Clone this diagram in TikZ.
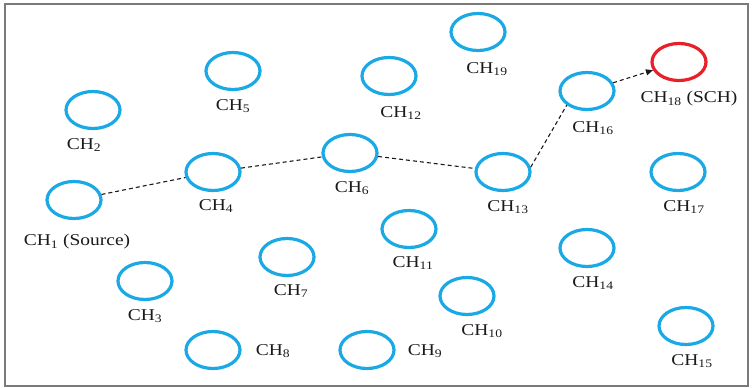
\documentclass[tikz,border=0pt]{standalone}
\usepackage{fontspec}
\setmainfont{Liberation Serif}
\newfontfamily\labfont[FakeStretch=1.18]{Liberation Serif}
\usetikzlibrary{shapes.geometric,arrows.meta}
\definecolor{chblue}{HTML}{1BA9E6}
\definecolor{chred}{HTML}{E8202A}
\definecolor{frame}{HTML}{7A7A7A}
\definecolor{ink}{HTML}{1A1A1A}
\newcommand{\ch}[1]{CH\textsubscript{#1}}
\begin{document}
\begin{tikzpicture}[x=1pt,y=-1pt,
  head/.style={ellipse,draw=chblue,line width=3.2pt,minimum width=54pt,minimum height=37pt,inner sep=0pt},
  sink/.style={head,draw=chred},
  tag/.style={font=\labfont\fontsize{16.5}{18}\selectfont,text=ink,inner sep=0pt},
  hop/.style={line width=1.1pt,ink,dash pattern=on 4pt off 3pt}]
\useasboundingbox (0,0) rectangle (752,388);
\coordinate (fa) at (5,4);
\coordinate (fb) at (748,386);
\draw[frame,line width=1.5pt] (fa) rectangle (fb);

% cluster heads
\node[head] (c1) at (74,200) {};
\node[head] (c2) at (93,110) {};
\node[head] (c3) at (145,281) {};
\node[head] (c4) at (213,172) {};
\node[head] (c5) at (233,71) {};
\node[head] (c6) at (350,153) {};
\node[head] (c7) at (287,257) {};
\node[head] (c8) at (213,350) {};
\node[head] (c9) at (367,350) {};
\node[head] (c10) at (467,296) {};
\node[head] (c11) at (409,229) {};
\node[head] (c12) at (389,76) {};
\node[head] (c13) at (503,172) {};
\node[head] (c14) at (587,248) {};
\node[head] (c15) at (686,326) {};
\node[head] (c16) at (587,91) {};
\node[head] (c17) at (678,172) {};
\node[sink] (c18) at (679,62) {};
\node[head] (c19) at (478,32) {};

% labels
\node[tag] (t1) at (77,242) {\ch{1} (Source)};
\node[tag] (t2) at (84,145) {\ch{2}};
\node[tag] (t3) at (145,316) {\ch{3}};
\node[tag] (t4) at (216,206) {\ch{4}};
\node[tag] (t5) at (233,106) {\ch{5}};
\node[tag] (t6) at (352,188) {\ch{6}};
\node[tag] (t7) at (291,291) {\ch{7}};
\node[tag] (t8) at (273,351) {\ch{8}};
\node[tag] (t9) at (425,351) {\ch{9}};
\node[tag] (t10) at (482,331) {\ch{10}};
\node[tag] (t11) at (413,263) {\ch{11}};
\node[tag] (t12) at (401,113) {\ch{12}};
\node[tag] (t13) at (508,207) {\ch{13}};
\node[tag] (t14) at (593,283) {\ch{14}};
\node[tag] (t15) at (692,361) {\ch{15}};
\node[tag] (t16) at (593,128) {\ch{16}};
\node[tag] (t17) at (684,207) {\ch{17}};
\node[tag] (t18) at (689,99) {\ch{18} (SCH)};
\node[tag] (t19) at (487,69) {\ch{19}};

% routing path from source to sink
\draw[hop] (c1) -- (c4);
\draw[hop] (c4) -- (c6);
\draw[hop] (c6) -- (c13);
\draw[hop] (c13.10) -- (c16.215);
\draw[hop,-{Triangle[length=7pt,width=6pt]}] (c16) -- (c18);
\end{tikzpicture}
\end{document}
